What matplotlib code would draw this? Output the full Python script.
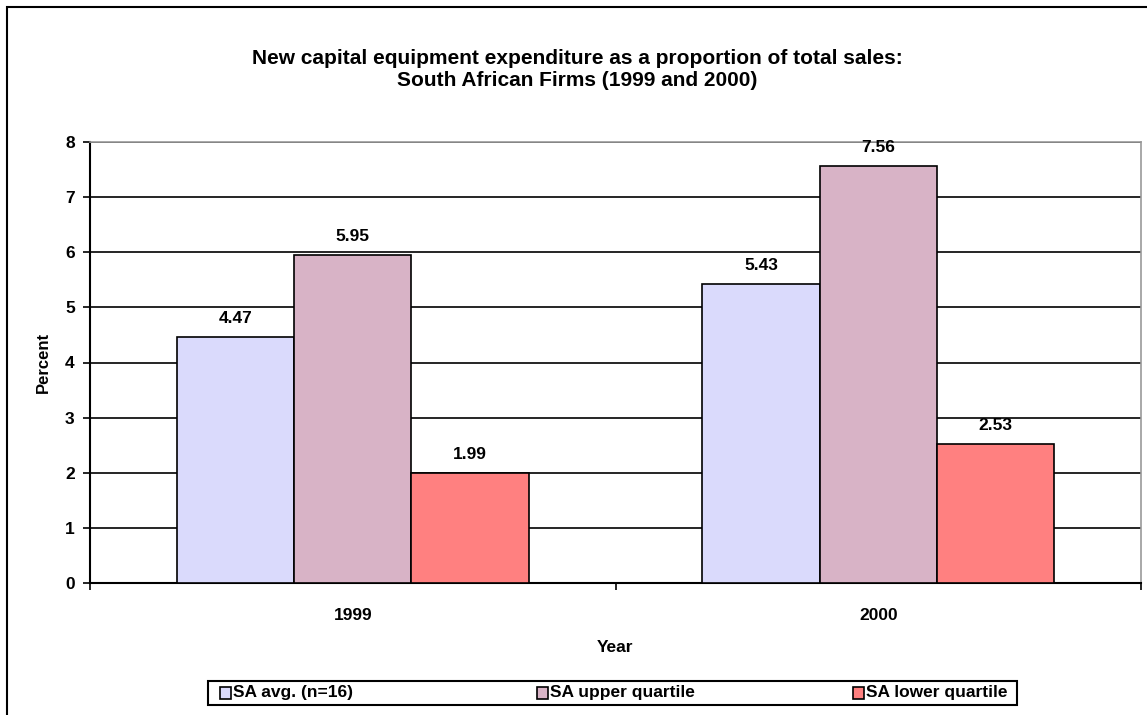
import matplotlib.pyplot as plt
from matplotlib.patches import Rectangle
import numpy as np

plt.rcParams['font.family'] = ['Liberation Sans', 'DejaVu Sans']
plt.rcParams['font.weight'] = 'bold'

years = ['1999', '2000']
series = ['SA avg. (n=16)', 'SA upper quartile', 'SA lower quartile']
sa_avg = [4.47, 5.43]
sa_upper = [5.95, 7.56]
sa_lower = [1.99, 2.53]
colors = ['#DADAFC', '#D8B3C6', '#FF8080']

W, H = 1147, 715
fig = plt.figure(figsize=(W / 100, H / 100), dpi=100)
ax = fig.add_axes([90/W, 1 - 583/H, 1051/W, 441/H])

x = np.arange(len(years))
w = 0.223
for i, (vals, c) in enumerate(zip([sa_avg, sa_upper, sa_lower], colors)):
    b = ax.bar(x + (i - 1) * w, vals, w, color=c, edgecolor='black', linewidth=1.2, zorder=3)
    for rect, v in zip(b, vals):
        ax.text(rect.get_x() + rect.get_width() / 2, v + 0.2, '%.2f' % v,
                ha='center', va='bottom', fontsize=12.5, fontweight='bold')

ax.set_xlim(-0.5, 1.5)
ax.set_ylim(0, 8)
ax.set_yticks(range(0, 9))
ax.yaxis.grid(True, color='black', linewidth=1.2, zorder=0)
ax.set_axisbelow(True)

# category labels sit between boundary ticks
ax.set_xticks([-0.5, 0.5, 1.5])
ax.set_xticklabels([])
ax.set_xticks(x, minor=True)
ax.set_xticklabels(years, minor=True, fontsize=12.5, fontweight='bold')
ax.tick_params(axis='x', which='minor', length=0, pad=18)
ax.tick_params(axis='x', which='major', length=5, width=1.2, direction='out')
ax.tick_params(axis='y', length=5, width=1.2, direction='out', labelsize=12.5, pad=6)

ax.spines['left'].set_linewidth(1.5)
ax.spines['bottom'].set_linewidth(1.5)
for s in ['top', 'right']:
    ax.spines[s].set_color('#999999')
    ax.spines[s].set_linewidth(1.2)

ax.set_ylabel('Percent', fontsize=12, fontweight='bold', labelpad=10)
ax.set_xlabel('Year', fontsize=12.5, fontweight='bold', labelpad=12)

fig.text(577/W, 1 - 58/H, 'New capital equipment expenditure as a proportion of total sales:',
         ha='center', va='center', fontsize=15, fontweight='bold')
fig.text(577/W, 1 - 81/H, 'South African Firms (1999 and 2000)',
         ha='center', va='center', fontsize=15, fontweight='bold')

# legend box with three entries
fig.patches.append(Rectangle((208/W, 1 - 705/H), 809/W, 24/H, transform=fig.transFigure,
                             fill=False, edgecolor='black', linewidth=1.5))
for lx, lab, c in zip([220, 537, 853], series, colors):
    fig.patches.append(Rectangle((lx/W, 1 - 699/H), 11/W, 12/H, transform=fig.transFigure,
                                 facecolor=c, edgecolor='black', linewidth=1.2))
    fig.text((lx + 13)/W, 1 - 693/H, lab, ha='left', va='center',
             fontsize=12.5, fontweight='bold')

# outer chart border
fig.patches.append(Rectangle((7/W, -0.05), 1.2, 1 - 7/H + 0.05, transform=fig.transFigure,
                             fill=False, edgecolor='black', linewidth=1.5))

fig.savefig('out.png', dpi=100)
